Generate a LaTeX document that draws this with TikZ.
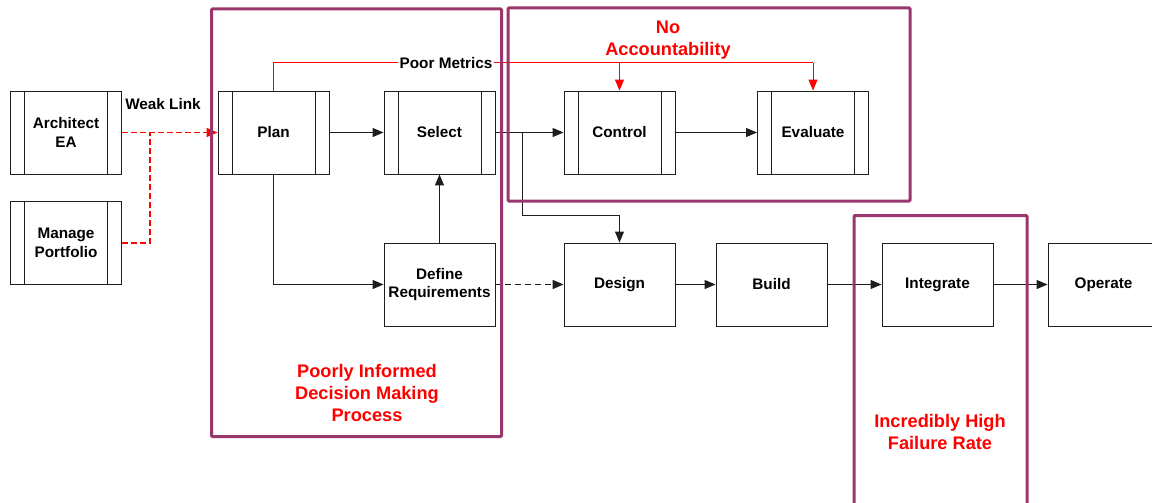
\documentclass[tikz,border=0pt]{standalone}
\usepackage{fontspec}
\setmainfont{Liberation Sans}
\usetikzlibrary{arrows.meta}
\definecolor{frame}{RGB}{155,54,108}
\definecolor{ink}{RGB}{30,30,30}
\tikzset{
  x=1pt, y=-1pt,
  tip/.style={-{Triangle[length=11pt,width=9pt]}},
  box/.style={draw=ink, line width=0.9pt, minimum width=111pt, minimum height=83pt,
    inner sep=2pt, align=center, font=\fontsize{15.3}{18.7}\selectfont\bfseries},
  subproc/.style={box, path picture={
    \draw[ink, line width=0.9pt] ([xshift=14pt]path picture bounding box.north west) -- ([xshift=14pt]path picture bounding box.south west);
    \draw[ink, line width=0.9pt] ([xshift=-14pt]path picture bounding box.north east) -- ([xshift=-14pt]path picture bounding box.south east);}},
  conn/.style={ink, line width=1pt, tip},
  weak/.style={red, line width=1.6pt, dash pattern=on 6pt off 3pt},
  metric/.style={red, line width=1pt},
  flag/.style={text=red, align=center, font=\fontsize{18.2}{21.7}\selectfont\bfseries},
  note/.style={font=\fontsize{15.3}{18}\selectfont\bfseries},
  zone/.style={draw=frame, line width=3pt, rounded corners=1pt},
}
\begin{document}
\begin{tikzpicture}
\useasboundingbox (0,0) rectangle (1152,503);

% process steps
\node[subproc] (arch) at (66,132.5) {Architect\\EA};
\node[subproc] (port) at (66,243) {Manage\\Portfolio};
\node[subproc] (plan) at (273.5,132.5) {Plan};
\node[subproc] (select) at (439.5,132.5) {Select};
\node[subproc] (control) at (619.5,132.5) {Control};
\node[subproc] (evaluate) at (813,132.5) {Evaluate};
\node[box] (defreq) at (439.5,284.5) {Define\\Requirements};
\node[box] (design) at (619.5,284.5) {Design};
\node[box] (build) at (771.5,284.5) {Build};
\node[box] (integrate) at (937.5,284.5) {Integrate};
\node[box] (operate) at (1103.5,284.5) {Operate};

% weak link from architecture and portfolio into planning
\coordinate (wj) at (150,132.5);
\draw[weak, tip] (arch.east) -- (plan.west);
\draw[weak] (port.east) -| (wj);
\node[note] (wl) at (163,104) {Weak Link};

% main flow
\draw[conn] (plan.east) -- (select.west);
\draw[conn] (select.east) -- (control.west);
\draw[conn] (control.east) -- (evaluate.west);
\draw[conn] (plan.south) |- (defreq.west);
\draw[conn] (defreq.north) -- (select.south);
\coordinate (br) at (522.5,132.5);
\coordinate (dj) at (619.5,215.5);
\draw[conn] (br) |- (dj) -- (design.north);
\draw[conn, line width=1.6pt, dash pattern=on 6pt off 4pt] (defreq.east) -- (design.west);
\draw[conn] (design.east) -- (build.west);
\draw[conn] (build.east) -- (integrate.west);
\draw[conn] (integrate.east) -- (operate.west);

% metrics feedback
\coordinate (mc) at (619.5,63);
\coordinate (me) at (813,63);
\draw[metric] (plan.north) |- (me);
\draw[metric, tip] (mc) -- (control.north);
\draw[metric, tip] (me) -- (evaluate.north);
\node[note, fill=white, inner sep=2pt] (pm) at (446,63) {Poor Metrics};

% problem areas
\draw[zone] (211.5,9) rectangle (501.5,436.5);
\draw[zone] (508,8) rectangle (910,201);
\draw[zone] (854,215.5) rectangle (1027,520);
\node[flag] (f1) at (367,393) {Poorly Informed\\Decision Making\\Process};
\node[flag] (f2) at (668,40) {No\\Accountability};
\node[flag] (f3) at (940,432) {Incredibly High\\Failure Rate};
\end{tikzpicture}
\end{document}
